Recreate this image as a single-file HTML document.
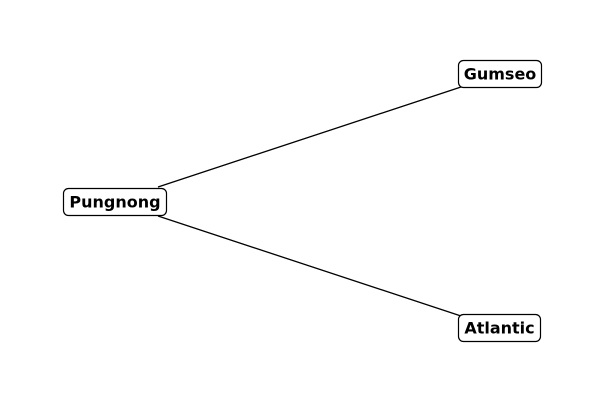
<!DOCTYPE html>
<html><head><style>
html,body{margin:0;padding:0;background:#fff;}
svg{display:block;}
text{font-family:"DejaVu Sans","Liberation Sans",sans-serif;font-weight:bold;font-size:16px;}
</style></head><body>
<svg width="600" height="400" viewBox="0 0 600 400">
<line x1="158" y1="187" x2="461" y2="87" stroke="#000" stroke-width="1.3"/>
<line x1="158" y1="216" x2="461" y2="316" stroke="#000" stroke-width="1.3"/>
<rect x="63.5" y="188.5" width="103" height="27" rx="5" fill="#fff" stroke="#000" stroke-width="1.2"/>
<text x="115" y="207.5" text-anchor="middle">Pungnong</text>
<rect x="458.5" y="60.5" width="83" height="27" rx="5" fill="#fff" stroke="#000" stroke-width="1.2"/>
<text x="500" y="79.5" text-anchor="middle">Gumseo</text>
<rect x="458.5" y="314.5" width="82" height="27" rx="5" fill="#fff" stroke="#000" stroke-width="1.2"/>
<text x="499.5" y="333.5" text-anchor="middle">Atlantic</text>
</svg>
</body></html>
